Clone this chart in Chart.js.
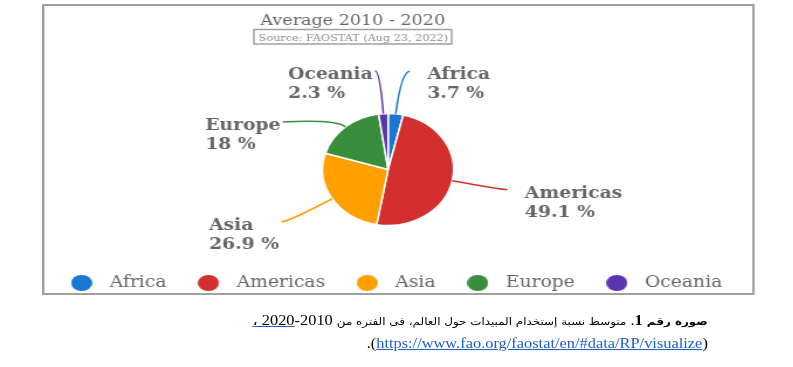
<!DOCTYPE html>
<html>
<head>
<meta charset="utf-8">
<script src="https://cdn.jsdelivr.net/npm/chart.js@4.4.1/dist/chart.umd.min.js"></script>
<style>
    html, body { margin: 0; background: #fff; }
    /* the source picture is stretched sideways, so the whole page is too */
    #page { position: absolute; left: 0; top: 0; width: 678px; height: 367px; transform: scaleX(1.17); transform-origin: 0 0; }
    #frame { position: absolute; left: 36.3px; top: 4px; width: 609px; height: 290.5px; }
    #frame canvas { position: absolute; left: -20px; top: 0; }
    #border { position: absolute; left: 0; top: 0; width: 609px; height: 290.5px; box-sizing: border-box;
              border: 2.5px solid #a0a0a0; border-left-width: 2.1px; border-right-width: 2.1px; pointer-events: none; }
    #caption { position: absolute; left: 0; top: 310px; width: 605px; direction: rtl; text-align: right;
               font: 14px "Liberation Serif", "DejaVu Sans", serif; line-height: 22px; white-space: nowrap; color: #000; }
    #caption .ar { font-family: "DejaVu Sans", sans-serif; font-size: 10.2px; }
    #caption .lk { color: #000; text-decoration: underline; text-decoration-color: #1f5fbf; }
    #caption .url { color: #1f5fbf; text-decoration: underline; }
</style>
</head>
<body>
<div id="page">
    <div id="frame">
        <canvas id="pie" width="649" height="290"></canvas>
        <div id="border"></div>
    </div>
    <div id="caption">
        <b><span class="ar">صورة رقم</span> 1</b>. <span class="ar">متوسط نسبة إستخدام المبيدات حول العالم، فى الفتره من</span> <bdo dir="ltr"><span class="lk">، 2020</span>-2010</bdo><br>
        (<span class="url">https://www.fao.org/faostat/en/#data/RP/visualize</span>).
    </div>
</div>
<script>
const regions = ['Africa', 'Americas', 'Asia', 'Europe', 'Oceania'];
const shares = [3.7, 49.1, 26.9, 18, 2.3];
const regionColors = ['#1976d2', '#d32f2f', '#ffa000', '#388e3c', '#5e35b1'];
const chartTitle = 'Average 2010 - 2020';
const sourceNote = 'Source: FAOSTAT (Aug 23, 2022)';

// leader line shape for each slice: radial length, sideways run, extra drop
const leaderLen = [43, 44, 44, 10, 43];
const leaderRun = [7, 4, -6, -47, -4];
const leaderDrop = [0, 0, 0, 2.5, 0];

const textGrey = '#666';
const ox = 20; // canvas sticks out 20px left of the frame so the legend fits on one row

function makeDot(color) {
    const c = document.createElement('canvas');
    c.width = 18;
    c.height = 16;
    const g = c.getContext('2d');
    g.fillStyle = color;
    g.beginPath();
    g.ellipse(9, 8, 9, 8, 0, 0, Math.PI * 2);
    g.fill();
    return c;
}
const dots = regionColors.map(makeDot);

const heading = {
    id: 'heading',
    afterDraw(chart) {
        const ctx = chart.ctx;
        ctx.save();
        ctx.textAlign = 'center';
        ctx.textBaseline = 'alphabetic';
        ctx.fillStyle = textGrey;
        ctx.font = '15px "DejaVu Serif"';
        ctx.fillText(chartTitle, ox + 265.5, 21);
        ctx.strokeStyle = '#a0a0a0';
        ctx.lineWidth = 1.5;
        ctx.strokeRect(ox + 181, 25.5, 169, 14.5);
        ctx.fillStyle = '#8a8a8a';
        ctx.font = '9.6px "DejaVu Serif"';
        ctx.fillText(sourceNote, ox + 266, 36.5);
        ctx.restore();
    }
};

// the legend row sits a little right of the pie centre in the source
const nudgeLegend = {
    id: 'nudgeLegend',
    afterLayout(chart) {
        chart.legend.left += 3.8;
        chart.legend.right += 3.8;
    }
};

const sliceLabels = {
    id: 'sliceLabels',
    afterDatasetsDraw(chart) {
        const ctx = chart.ctx;
        const meta = chart.getDatasetMeta(0);
        ctx.save();
        ctx.font = 'bold 16px "DejaVu Serif"';
        ctx.textBaseline = 'alphabetic';
        ctx.textAlign = 'left';
        meta.data.forEach((arc, i) => {
            const p = arc.getProps(['x', 'y', 'startAngle', 'endAngle', 'outerRadius'], true);
            const mid = (p.startAngle + p.endAngle) / 2;
            const cos = Math.cos(mid);
            const sin = Math.sin(mid);
            const sx = p.x + cos * p.outerRadius;
            const sy = p.y + sin * p.outerRadius;
            const bx = sx + cos * leaderLen[i];
            const by = sy + sin * leaderLen[i];
            const ex = bx + leaderRun[i];
            const ey = by + leaderDrop[i];

            ctx.strokeStyle = regionColors[i];
            ctx.lineWidth = 1.5;
            ctx.beginPath();
            ctx.moveTo(sx, sy);
            ctx.quadraticCurveTo(bx, by, ex, ey);
            ctx.stroke();

            const lines = [regions[i], shares[i] + ' %'];
            const w = Math.max(...lines.map(t => ctx.measureText(t).width));
            const left = leaderRun[i] >= 0 ? ex + 15 : ex - 2 - w;
            ctx.fillStyle = textGrey;
            lines.forEach((t, k) => ctx.fillText(t, left, ey + 8 + k * 19));
        });
        ctx.restore();
    }
};

const ctx = document.getElementById('pie').getContext('2d');
new Chart(ctx, {
    type: 'pie',
    data: {
        labels: regions,
        datasets: [{
            data: shares,
            backgroundColor: regionColors,
            borderColor: '#fff',
            borderWidth: 1.5,
            radius: 56
        }]
    },
    options: {
        responsive: false,
        animation: false,
        events: [],
        layout: { padding: { left: 0, right: 17.6, top: 80, bottom: -7 } },
        plugins: {
            tooltip: { enabled: false },
            legend: {
                position: 'bottom',
                labels: {
                    usePointStyle: true,
                    pointStyleWidth: 32,
                    boxHeight: 16,
                    padding: 20,
                    color: textGrey,
                    font: { family: 'DejaVu Serif', size: 16 },
                    generateLabels(chart) {
                        const items = Chart.overrides.doughnut.plugins.legend.labels.generateLabels(chart);
                        items.forEach((it, i) => { it.pointStyle = dots[i]; });
                        return items;
                    }
                }
            }
        }
    },
    plugins: [sliceLabels, heading, nudgeLegend]
});
</script>
</body>
</html>
